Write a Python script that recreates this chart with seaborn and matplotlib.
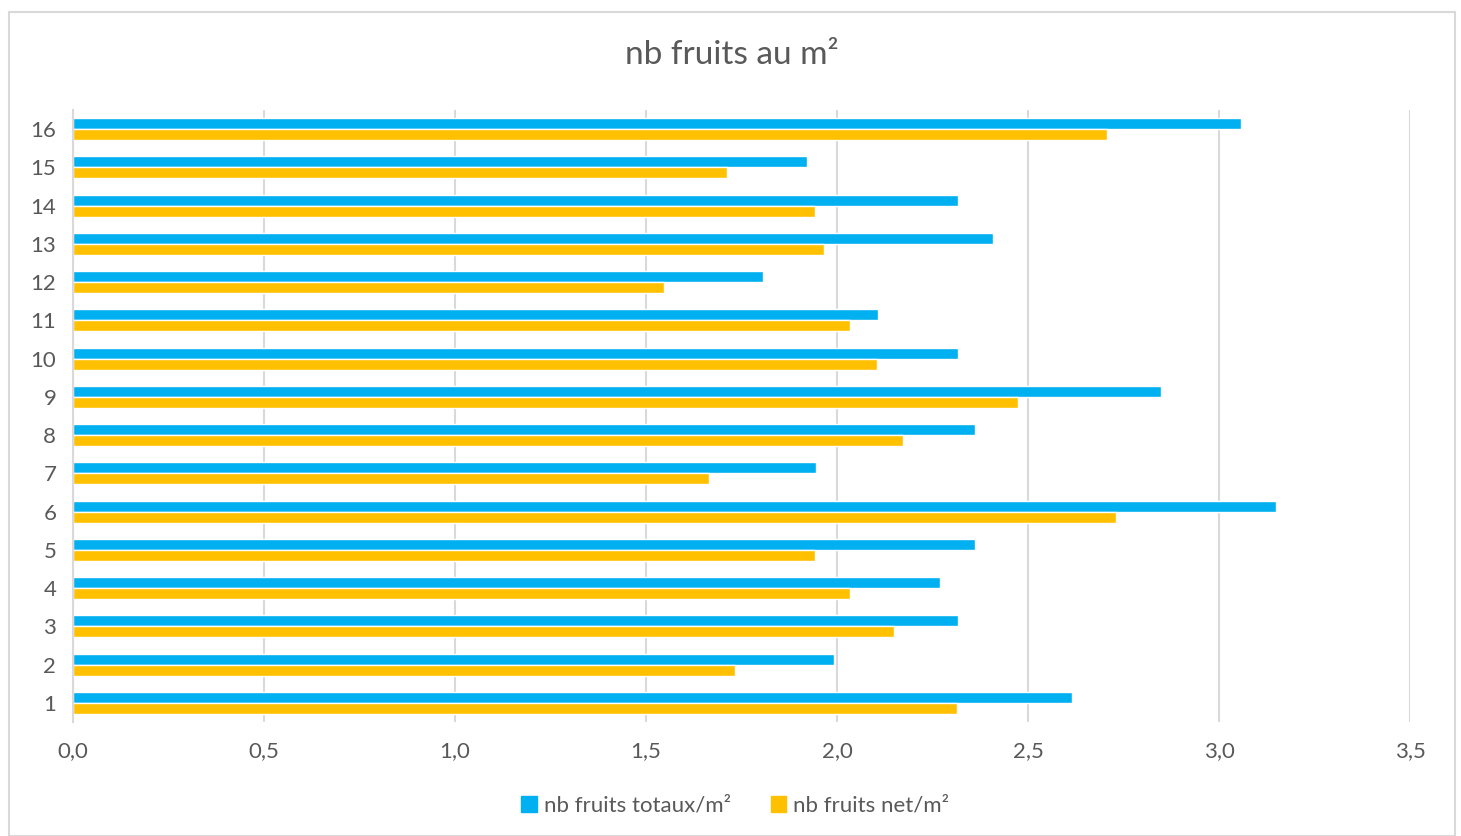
import pandas as pd
import numpy as np
import matplotlib.pyplot as plt
import matplotlib.patches as mpatches
import seaborn as sns

sns.set_style("white")
plt.rcParams['font.family'] = ['Lato', 'DejaVu Sans']

# data (plots 1..16)
plots = [str(i) for i in range(1, 17)]
totaux = [2.615, 1.992, 2.317, 2.270, 2.361, 3.149, 1.945, 2.361,
          2.848, 2.317, 2.107, 1.806, 2.408, 2.317, 1.921, 3.058]
net = [2.314, 1.733, 2.149, 2.034, 1.942, 2.730, 1.665, 2.173,
       2.474, 2.105, 2.034, 1.547, 1.966, 1.942, 1.712, 2.707]
series = ['nb fruits totaux/m²', 'nb fruits net/m²']
colors = ['#00B0F0', '#FFC000']
xticks = np.arange(0, 3.51, 0.5)

df = pd.DataFrame({
    'plot': plots * 2,
    'value': totaux + net,
    'serie': [series[0]] * 16 + [series[1]] * 16,
})

grey = '#595959'
fig = plt.figure(figsize=(14.61, 8.36), dpi=100)
ax = fig.add_axes([73 / 1461, 1 - 722 / 836, (1410 - 73) / 1461, (722 - 110) / 836])

sns.barplot(data=df, x='value', y='plot', hue='serie', orient='y',
            order=plots[::-1], hue_order=series, palette=colors,
            width=0.58, gap=0, errorbar=None, ax=ax, legend=False,
            saturation=1)

ax.set_xlim(0, 3.5)
ax.set_ylim(15.5, -0.5)
ax.set_xticks(xticks)
ax.set_xticklabels([f"{v:.1f}".replace('.', ',') for v in xticks])
ax.xaxis.grid(True, color='#D9D9D9', linewidth=1.5)
ax.yaxis.grid(False)
for s in ['top', 'right', 'bottom']:
    ax.spines[s].set_visible(False)
ax.spines['left'].set_color('#D9D9D9')
ax.spines['left'].set_linewidth(1.5)
ax.tick_params(axis='both', length=0, labelsize=16, colors=grey)
ax.tick_params(axis='x', pad=14)
ax.tick_params(axis='y', pad=12)
ax.set_xlabel('')
ax.set_ylabel('')

fig.text(732 / 1461, 1 - 55 / 836, 'nb fruits au m²', ha='center', va='center',
         fontsize=24, color=grey)

handles = [mpatches.Patch(color=c, label=l) for c, l in zip(colors, series)]
fig.legend(handles=handles, loc='center', bbox_to_anchor=(735 / 1461, 1 - 806 / 836),
           ncol=2, frameon=False, fontsize=16, labelcolor=grey,
           handlelength=0.7, handleheight=0.7, handletextpad=0.3, columnspacing=1.8)

# outer chart border
fig.add_artist(mpatches.Rectangle((9 / 1461, 0), 1446 / 1461, 1 - 12 / 836,
                                  transform=fig.transFigure, fill=False,
                                  edgecolor='#D9D9D9', linewidth=1.5))

fig.savefig('out.png', dpi=100)
